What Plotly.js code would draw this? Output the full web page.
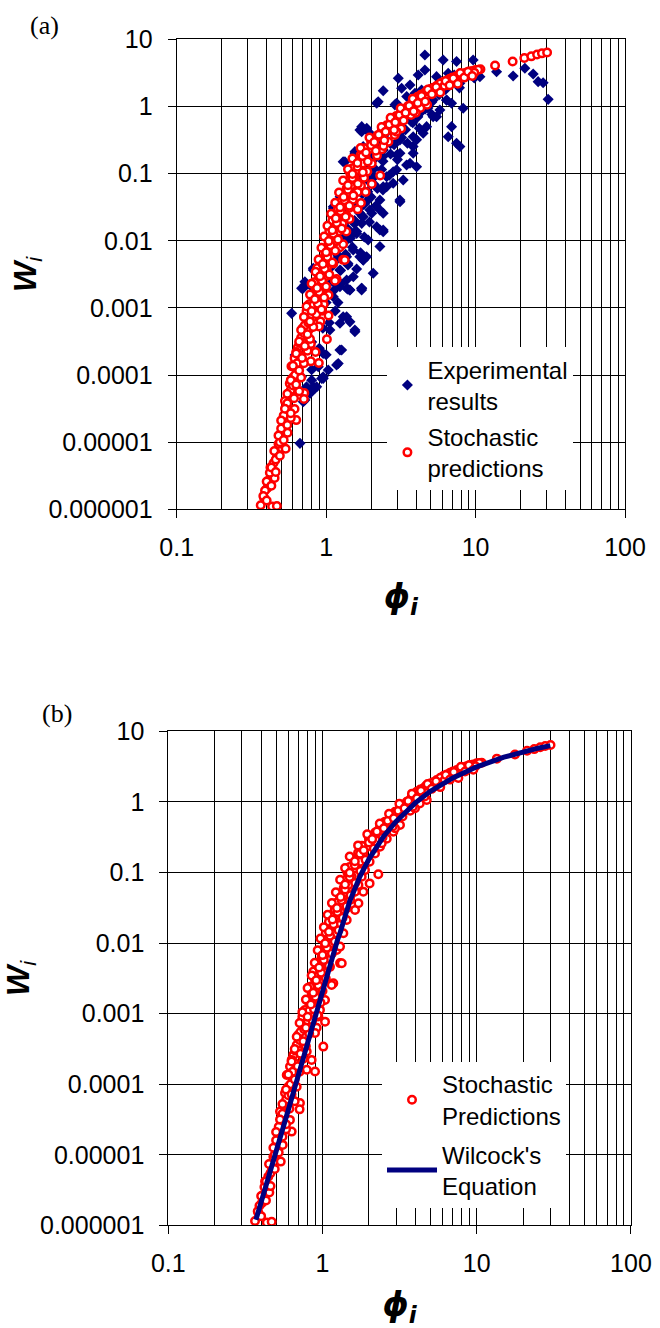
<!DOCTYPE html>
<html>
<head>
<meta charset="utf-8">
<script src="https://cdn.plot.ly/plotly-3.0.1.min.js"></script>
<style>html,body{margin:0;padding:0;background:#fff;}#chart{width:660px;height:1328px;}</style>
</head>
<body>
<div id="chart"></div>
<script>
// ---- Data ----
// Stochastic predictions (same set shown in panels a and b)
var redX = [0.365,0.384,0.435,0.468,0.403,0.413,0.452,0.424,0.445,0.468,0.48,0.536,0.505,0.552,0.53,0.631,0.557,0.615,0.53,0.586,0.714,0.71,0.571,0.6,0.647,0.615,0.647,0.68,0.697,0.732,0.79,0.85,0.894,0.79,0.872,0.917,1.012,1.038,0.77,0.81,0.85,0.894,0.872,0.94,0.987,1.012,1.038,1.09,1.146,1.236,1.267,1.299,1.236,1.175,1.038,0.963,1.09,1.118,0.963,1.012,0.917,0.94,0.894,0.83,0.751,0.77,0.663,0.714,0.631,0.586,
0.39,0.42,0.46,0.49,0.5,0.52,0.55,0.58,0.6,0.62,0.64,0.66,0.7,0.72,0.74,0.76,0.8,0.82,0.86,0.88,0.92,0.96,
0.83,0.894,0.939,0.988,1.038,1.09,1.118,1.175,1.236,1.299,1.365,1.47,1.547,1.625,1.751,1.839,1.935,2.084,2.246,2.36,2.543,2.74,2.953,3.18,3.516,3.789,4.08,4.505,4.98,5.5,6.07,6.71,7.42,8.19,9.05,10.0,10.78,13.5,17.7,21.2,23.6,25.8,27.8,30.1,
1.3,1.37,1.43,1.45,1.5,1.6,1.7,1.8,2.0,2.2,2.5,2.75,3.0,3.3,3.6,4.0,4.6,1.2,1.1,1.05,1.25,
0.963,1.012,1.065,1.146,1.205,1.287,1.365,1.435,1.51,1.625,1.71,1.795,1.885,2.02,2.19,2.36,2.61,2.88,3.18,3.7,4.27,
5.2,5.8,6.4,7.0,7.8,8.6,9.5,10.4,4.7,4.3,3.9,5.3,6.2,7.3,8.5,9.8,
1.333,1.146,1.625,1.839,2.30,2.42,2.953,3.98,4.74,1.365,1.299,1.435,1.71,2.02,
0.38,0.40,0.40,0.43,0.43,0.46,0.45,0.49,0.48,0.52,0.50,0.55,0.58,0.53,0.58,0.55,0.61,0.66,0.58,0.63,0.68,0.6,0.66,0.71,0.63,0.69,0.75,0.66,0.72,0.78,0.68,0.75,0.82,0.71,0.78,0.86,
0.74,0.8,0.88,0.93,0.78,0.84,0.9,0.97,0.8,0.87,0.94,1.0,0.85,0.91,0.98,1.05,0.89,0.95,1.02,1.1,0.93,1.0,1.07,1.15,0.97,1.04,1.12,1.2,1.02,1.1,1.18,1.27,1.08,1.16,1.25,1.35,1.15,1.24,1.33,1.43,1.22,1.31,1.4,1.52,1.3,1.4,1.5,1.63,1.4,1.5,1.62,1.76,1.5,1.62,1.75,1.9,1.7,1.85,2.0,2.15,1.95,2.1,2.25,2.45,2.35,2.5,2.65,2.85,2.7,2.9,3.1,3.3,3.15,3.4,3.6,3.85,3.8,4.1,4.35,4.6,4.8,5.1,5.45,5.8,6.3,6.7,7.1,7.6,7.9,8.4,8.9,9.5];
var redY = [1.15e-6,1.49e-6,1.1e-6,1.12e-6,2.06e-6,2.7e-6,2.92e-6,4.18e-6,4.9e-6,6.8e-6,9.4e-6,8.0e-6,1.24e-5,1.38e-5,2.02e-5,2.13e-5,3.12e-5,3.12e-5,4.09e-5,4.82e-5,5.4e-5,4.4e-5,7.5e-5,9.2e-5,1.15e-4,1.78e-4,2.6e-4,3.6e-4,5.0e-4,7.7e-4,1.6e-4,2.21e-4,1.51e-4,2.9e-4,5.9e-4,6.3e-4,3.41e-4,7.7e-4,1.13e-3,1.48e-3,1.95e-3,3.0e-3,3.94e-3,4.9e-3,7.2e-3,3.0e-3,9.9e-3,0.0123,0.0162,0.0212,0.0328,5.2e-3,8.0e-3,2.7e-3,1.56e-3,1.13e-3,0.015,4.6e-3,2.2e-3,3.94e-3,1.75e-3,9.1e-4,5.3e-4,2.29e-3,6.3e-4,4.8e-4,3.0e-4,4.2e-4,2.21e-4,1.35e-4,
1.9e-6,3.5e-6,5.5e-6,1.0e-5,1.6e-5,2.5e-5,3.8e-5,6.0e-5,7.0e-5,1.0e-4,1.5e-4,2.0e-4,3.0e-4,5.5e-4,9.0e-4,6.0e-4,8.0e-4,1.1e-3,1.4e-3,2.5e-3,3.3e-3,5.5e-3,
2.41e-3,3.35e-3,4.63e-3,6.43e-3,8.9e-3,0.0117,0.0153,0.0212,0.0279,0.0366,0.0507,0.0665,0.0873,0.1146,0.142,0.177,0.232,0.289,0.359,0.446,0.525,0.617,0.726,0.855,1.007,1.185,1.395,1.56,1.83,2.04,2.33,2.59,2.83,3.09,3.33,3.52,3.59,4.1,4.7,5.3,5.6,5.95,6.2,6.4,
0.045,0.06,0.08,0.1,0.12,0.15,0.19,0.24,0.3,0.37,0.45,0.58,0.7,0.85,1.0,1.2,1.45,0.03,0.02,0.014,0.038,
4.16e-3,5.46e-3,7.2e-3,9.9e-3,0.0138,0.018,0.0237,0.0311,0.0408,0.0535,0.0665,0.0873,0.108,0.142,0.186,0.232,0.30,0.377,0.47,0.75,0.95,
1.9,2.2,2.45,2.7,2.95,3.2,3.4,3.55,1.7,1.5,1.3,1.65,2.05,2.5,2.9,3.2,
5.18e-3,2.55e-3,0.0294,0.0535,0.0942,0.259,0.423,0.811,1.064,0.0138,8.9e-3,0.0212,0.0366,0.07,
1.58e-6,1.35e-6,2.6e-6,2.25e-6,4.2e-6,3.6e-6,7.4e-6,6.3e-6,1.26e-5,1.08e-5,2.1e-5,1.8e-5,2.3e-5,3.15e-5,2.7e-5,5.25e-5,4.5e-5,5.75e-5,8.4e-5,7.2e-5,9.2e-5,1.37e-4,1.17e-4,1.5e-4,2.1e-4,1.8e-4,2.3e-4,3.15e-4,2.7e-4,3.45e-4,4.7e-4,4.05e-4,5.2e-4,7.35e-4,6.3e-4,8.05e-4,
1.05e-3,9e-4,1.15e-3,9.5e-4,1.58e-3,1.35e-3,1.73e-3,1.43e-3,2.3e-3,1.98e-3,2.53e-3,2.09e-3,3.47e-3,2.97e-3,3.8e-3,3.14e-3,5.25e-3,4.5e-3,5.75e-3,4.75e-3,7.9e-3,6.75e-3,8.6e-3,7.1e-3,0.0116,9.9e-3,0.0127,0.0105,0.0168,0.0144,0.0184,0.0152,0.0252,0.0216,0.0276,0.0228,0.0368,0.0315,0.0403,0.0333,0.0525,0.045,0.0575,0.0475,0.079,0.0675,0.086,0.071,0.116,0.099,0.127,0.105,0.168,0.144,0.184,0.152,0.242,0.207,0.265,0.219,0.347,0.297,0.38,0.314,0.494,0.423,0.54,0.447,0.68,0.585,0.75,0.62,0.945,0.81,1.03,0.855,1.31,1.13,1.44,1.19,1.79,1.53,1.96,1.62,2.4,2.07,2.65,2.19,3.15,2.7,3.3,2.85];

// Experimental results (panel a)
var blueX = [4.58,6.07,7.46,9.63,4.58,4.13,5.48,3.04,3.64,3.2,2.41,2.23,2.96,3.46,3.93,4.35,5.2,6.4,5.77,6.91,8.26,7.85,6.56,8.71,10.69,13.82,17.84,21.37,24.29,26.22,28.32,30.59,5.48,6.91,6.56,7.85,7.46,4.7,4.03,3.82,3.64,3.12,2.96,2.54,2.41,3.12,2.29,1.96,1.73,1.87,1.56,1.3,1.77,1.64,1.52,1.24,1.44,1.12,1.68,2.02,2.29,2.41,1.73,1.52,1.91,1.37,1.68,1.77,1.4,1.52,1.73,1.44,1.2,0.82,0.72,
2.18,2.885,4.24,5.2,1.728,1.683,1.963,2.473,3.117,3.824,4.46,1.336,1.558,2.963,3.824,3.455,4.03,2.81,2.54,2.29,3.117,1.963,1.771,1.6,2.18,2.41,2.29,1.518,1.371,1.771,1.237,1.116,1.175,0.721,0.8,0.933,1.116,1.728,1.371,2.066,1.866,2.41,2.81,3.28,2.066,2.41,
0.95,1.05,1.0,1.1,1.2,1.15,1.25,1.3,1.35,1.4,1.5,1.45,1.6,1.7,1.65,1.8,1.9,2.0,2.1,2.2,2.3,2.5,2.6,2.8,3.0,3.2,3.4,3.6,3.9,4.2,4.6,5.0,5.5,6.0,6.5,7.2,8.0,9.0,10.0,1.55,1.75,1.9,2.1,2.4,2.7,3.0,3.3,3.7,4.1,4.8,2.0,2.2,1.8,1.4,1.3,1.55,1.15,
0.9,1.0,1.1,1.2,0.85,0.95,1.05,1.15,0.75,0.9,1.0,0.8,0.7,
0.703,0.886,1.237,1.443,1.728,0.588,0.721,1.371,1.443,1.237,1.558,1.06,1.237,1.175,1.033,0.956,0.864,0.8,0.74,0.619,0.603,0.668,0.721,0.779,0.956,0.886,
0.685,0.82,0.685,0.933,0.842,0.703,0.8,1.771,1.371,1.301,1.558,1.27,1.205,0.956,0.82,
1.0,1.12,1.25,1.4,1.1,1.25,1.4,1.6,1.2,1.35,1.5,1.7,1.3,1.45,1.6,1.8,1.4,1.55,1.75,1.95,1.55,1.7,1.9,2.15,1.7,1.9,2.1,2.4,1.9,2.1,2.35,2.65,2.15,2.4,2.7,3.0,2.55,2.85,3.2,3.5,3.05,3.4,3.8,4.2,3.7,4.1,4.6,5.1,4.6,5.1,5.7,6.4,5.7,6.3,7.0,7.8,7.2,8.0,8.9,9.8];
var blueY = [5.87,4.95,4.68,4.95,3.51,2.96,2.79,2.64,2.1,1.87,1.72,1.18,1.12,1.41,1.58,1.77,1.25,1.25,0.89,1.12,0.942,2.22,3.13,3.13,2.79,3.31,2.86,3.72,3.06,2.35,2.27,1.28,0.708,0.502,0.356,0.253,0.284,0.502,0.32,0.253,0.143,0.201,0.114,0.09,0.064,0.0383,0.0288,0.0454,0.502,0.474,0.201,0.151,0.253,0.127,0.064,0.0454,0.0362,0.0305,0.0257,0.0257,0.0145,0.0145,0.0182,0.0129,0.0103,0.0103,5.8e-3,5.18e-3,4.36e-3,2.92e-3,1.96e-3,1.85e-3,2.19e-3,3.89e-3,2.19e-3,
1.12,1.06,0.794,0.708,0.423,0.448,0.4,0.501,0.318,0.356,0.4,0.151,0.213,0.19,0.201,0.135,0.127,0.107,0.064,0.0406,0.0406,0.0288,0.0229,0.0129,0.0162,0.0137,8.2e-3,7.3e-3,5.8e-3,5.2e-3,3.67e-3,0.0322,0.0103,2.46e-3,2.07e-3,1.85e-3,1.47e-3,1.85e-3,2.6e-3,3.28e-3,5.8e-3,0.0257,0.0719,0.0805,0.16,0.225,
0.003,0.004,0.006,0.008,0.006,0.012,0.015,0.02,0.025,0.03,0.045,0.06,0.07,0.09,0.11,0.13,0.17,0.2,0.25,0.3,0.35,0.4,0.48,0.55,0.62,0.7,0.8,0.9,1.0,1.15,1.3,1.5,1.7,1.9,2.1,2.4,2.6,2.9,3.2,0.035,0.05,0.08,0.12,0.18,0.28,0.35,0.45,0.6,0.7,0.95,0.045,0.06,0.035,0.015,0.009,0.02,0.005,
1.5e-3,1.2e-3,2.5e-3,1.2e-3,1.0e-3,5e-4,6e-4,9e-4,3e-4,2.5e-4,2e-4,1.2e-4,1.5e-4,
1.96e-3,2.07e-3,2.07e-3,1.85e-3,1.96e-3,8.3e-4,7.4e-4,7.4e-4,6.2e-4,5.9e-4,4.42e-4,4.69e-4,2.36e-4,1.41e-4,1.19e-4,8.9e-5,6.7e-5,8.4e-5,6.7e-5,1.99e-4,1.33e-4,9.6e-6,4.24e-5,5.3e-5,2.1e-4,1.33e-4,
1.96e-3,3.67e-3,9.4e-5,8.9e-5,6.3e-5,4.0e-5,3.1e-4,5.18e-3,1.96e-3,7.4e-4,4.69e-4,2.36e-4,1.49e-4,9.4e-5,6.7e-5,
2.1e-3,1.8e-3,2.3e-3,1.9e-3,4.2e-3,3.6e-3,4.6e-3,3.8e-3,7.35e-3,6.3e-3,8.05e-3,6.65e-3,0.0126,0.0108,0.0138,0.0114,0.021,0.018,0.023,0.019,0.0368,0.0315,0.0403,0.0333,0.063,0.054,0.069,0.057,0.105,0.09,0.115,0.095,0.179,0.153,0.196,0.162,0.315,0.27,0.345,0.285,0.525,0.45,0.575,0.475,0.84,0.72,0.92,0.76,1.37,1.17,1.5,1.24,2.1,1.8,2.3,1.9,2.94,2.52,3.22,2.66];

// Wilcock's equation curve (panel b)
var wilcockX = [0.37,0.4,0.45,0.5,0.55,0.6,0.65,0.7,0.75,0.8,0.85,0.9,0.95,1.0,1.05,1.1,1.15,1.2,1.25,1.3,1.35,1.5,1.75,2.0,2.5,3.0,4.0,5.0,7.0,10,15,20,25,30];
var wilcockY = [1.2e-6,2.1e-6,5.0e-6,1.1e-5,2.3e-5,4.3e-5,7.9e-5,1.4e-4,2.3e-4,3.8e-4,5.9e-4,9.1e-4,1.4e-3,2.0e-3,2.9e-3,4.1e-3,5.7e-3,7.9e-3,0.011,0.014,0.019,0.039,0.088,0.155,0.33,0.53,0.97,1.41,2.19,3.14,4.3,5.13,5.77,6.28];

// Tick labels
var xTickVals = [0.1, 1, 10, 100];
var xTickText = ['0.1', '1', '10', '100'];
var xMinorVals = [0.2,0.3,0.4,0.5,0.6,0.7,0.8,0.9,2,3,4,5,6,7,8,9,20,30,40,50,60,70,80,90];
var yTickVals = [10, 1, 0.1, 0.01, 0.001, 0.0001, 0.00001, 0.000001];
var yTickText = ['10', '1', '0.1', '0.01', '0.001', '0.0001', '0.00001', '0.000001'];

// ---- Chart ----
var SANS = 'Liberation Sans, Arial, Helvetica, sans-serif';
var GRID = '#000000';

function xAxis(domain, anchor) {
  return {
    type: 'log', range: [-1, 2], domain: domain, anchor: anchor,
    tickmode: 'array', tickvals: xTickVals, ticktext: xTickText,
    ticks: 'outside', ticklen: 8, tickwidth: 1, tickcolor: '#000',
    ticklabelstandoff: 8,
    tickfont: {family: SANS, size: 25, color: '#000'},
    showgrid: true, gridcolor: GRID, gridwidth: 1,
    minor: {tickmode: 'array', tickvals: xMinorVals, showgrid: true, gridcolor: GRID, gridwidth: 1, ticks: ''},
    showline: true, linecolor: '#000', linewidth: 1, mirror: true,
    zeroline: false, fixedrange: true,
    title: {text: '<b><i>ϕ</i></b><sub><b><i>i</i></b></sub>', font: {family: 'DejaVu Sans, Liberation Sans, sans-serif', size: 33, color: '#000'}, standoff: 24}
  };
}
function yAxis(domain, anchor) {
  return {
    type: 'log', range: [-6, 1], domain: domain, anchor: anchor,
    tickmode: 'array', tickvals: yTickVals, ticktext: yTickText,
    ticks: 'outside', ticklen: 8, tickwidth: 1, tickcolor: '#000',
    ticklabelstandoff: 10,
    tickfont: {family: SANS, size: 25, color: '#000'},
    showgrid: true, gridcolor: GRID, gridwidth: 1,
    showline: true, linecolor: '#000', linewidth: 1, mirror: true,
    zeroline: false, fixedrange: true,
    title: {text: '<b><i>W</i></b><sub><i>i</i></sub>', font: {family: SANS, size: 32, color: '#000'}, standoff: 2}
  };
}

var traces = [
  {x: blueX, y: blueY, type: 'scatter', mode: 'markers', xaxis: 'x', yaxis: 'y', legend: 'legend', legendgroup: 'exp',
   name: 'Experimental<br>results',
   marker: {symbol: 'diamond', size: 8.5, color: '#000080', line: {width: 0}}},
  {x: redX, y: redY, type: 'scatter', mode: 'markers', xaxis: 'x', yaxis: 'y', legend: 'legend', legendgroup: 'sto',
   name: 'Stochastic<br>predictions',
   marker: {symbol: 'circle', size: 7.5, color: '#ffffff', line: {color: '#ff0000', width: 2.5}}},
  {x: redX, y: redY, type: 'scatter', mode: 'markers', xaxis: 'x2', yaxis: 'y2', legend: 'legend2', legendgroup: 'sto2',
   name: 'Stochastic<br>Predictions',
   marker: {symbol: 'circle', size: 7.5, color: '#ffffff', line: {color: '#ff0000', width: 2.5}}},
  {x: wilcockX, y: wilcockY, type: 'scatter', mode: 'lines', xaxis: 'x2', yaxis: 'y2', legend: 'legend2', legendgroup: 'wil',
   name: "Wilcock's<br>Equation",
   line: {color: '#000080', width: 5}}
];

var layout = {
  width: 660, height: 1328,
  margin: {l: 0, r: 0, t: 0, b: 0},
  paper_bgcolor: '#ffffff', plot_bgcolor: '#ffffff',
  font: {family: SANS, color: '#000'},
  showlegend: true,
  xaxis: xAxis([0.2677, 0.947], 'y'),
  yaxis: yAxis([0.6165, 0.9703], 'x'),
  xaxis2: xAxis([0.255, 0.956], 'y2'),
  yaxis2: yAxis([0.0773, 0.4493], 'x2'),
  legend: {x: 0.587, xanchor: 'left', y: 0.7385, yanchor: 'top', bgcolor: '#ffffff', borderwidth: 0,
           tracegroupgap: 2, font: {family: SANS, size: 24, color: '#000'}},
  legend2: {x: 0.5788, xanchor: 'left', y: 0.2003, yanchor: 'top', bgcolor: '#ffffff', borderwidth: 0,
            tracegroupgap: 5, itemwidth: 50, font: {family: SANS, size: 24, color: '#000'}},
  annotations: [
    {text: '(a)', xref: 'paper', yref: 'paper', x: 0.068, y: 0.981, xanchor: 'center', yanchor: 'middle',
     showarrow: false, font: {family: 'Liberation Serif, Times New Roman, serif', size: 26, color: '#000'}},
    {text: '(b)', xref: 'paper', yref: 'paper', x: 0.0864, y: 0.463, xanchor: 'center', yanchor: 'middle',
     showarrow: false, font: {family: 'Liberation Serif, Times New Roman, serif', size: 26, color: '#000'}}
  ]
};

Plotly.newPlot('chart', traces, layout, {displayModeBar: false, staticPlot: true});
</script>
</body>
</html>
